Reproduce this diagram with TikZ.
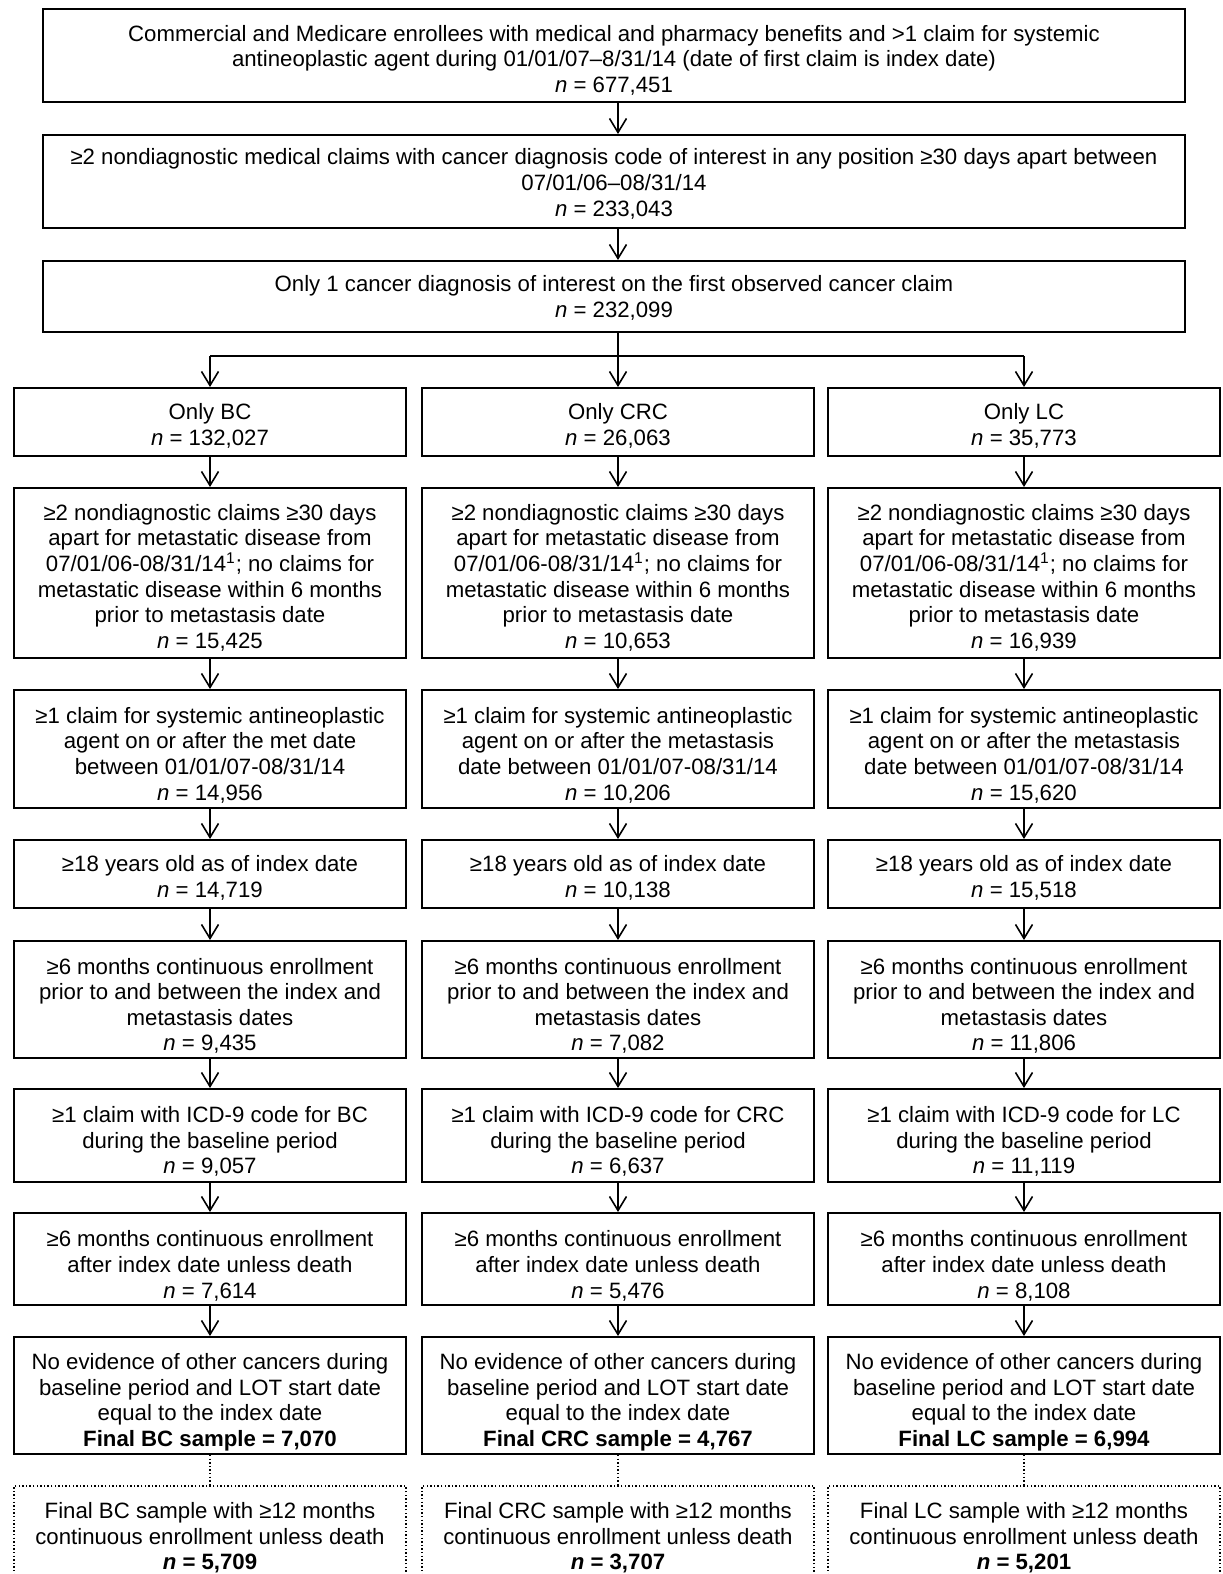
\documentclass[tikz,border=0pt]{standalone}
\usepackage{fontspec}
\setmainfont{Liberation Sans}
\usetikzlibrary{arrows.meta}
\newcommand\fsz{\fontsize{11.1pt}{12.8pt}\selectfont}
\newcommand\nI{\textit{n}}
% #1 style, #2 name, #3 x, #4 y, #5 height, #6 text shift, #7 text
\newcommand\mkbox[7]{%
  \node[#1, minimum height=#5] (#2) at (#3,#4) {};
  \node[txt, yshift=-#6] (#2t) at (#2.center) {#7};}
\begin{document}
\begin{tikzpicture}[x=0.5pt,y=-0.5pt,
  txt/.style={align=center, inner sep=0pt, font=\fsz, text=black},
  box/.style={draw, line width=1pt, inner sep=0pt},
  topbox/.style={box, minimum width=571pt},
  colbox/.style={box, minimum width=196pt},
  dotbox/.style={colbox, line width=0.7pt, dash pattern=on 0.7pt off 1.1pt},
  arr/.style={line width=0.8pt, -{Straight Barb[length=7pt,width=8.5pt,line width=0.8pt]}},
  plain/.style={line width=0.8pt},
  dotline/.style={line width=0.7pt, dash pattern=on 0.7pt off 1.1pt}]
\useasboundingbox (0,0) rectangle (1222,1574);

% top boxes
\mkbox{topbox}{b1}{614}{55.5}{46.5pt}{2.3pt}{Commercial and Medicare enrollees with medical and pharmacy benefits and >1 claim for systemic\\ antineoplastic agent during 01/01/07–8/31/14 (date of first claim is index date)\\ \nI{} = 677,451}
\mkbox{topbox}{b2}{614}{181.5}{46.5pt}{1.2pt}{≥2 nondiagnostic medical claims with cancer diagnosis code of interest in any position ≥30 days apart between\\ 07/01/06–08/31/14\\ \nI{} = 233,043}
\mkbox{topbox}{b3}{614}{296.5}{35.5pt}{0.8pt}{Only 1 cancer diagnosis of interest on the first observed cancer claim\\ \nI{} = 232,099}

% BC column
\mkbox{colbox}{a1}{210}{422}{34pt}{2pt}{Only BC\\ \nI{} = 132,027}
\mkbox{colbox}{a2}{210}{573}{85pt}{2.3pt}{≥2 nondiagnostic claims ≥30 days\\ apart for metastatic disease from\\ 07/01/06-08/31/14\textsuperscript{1}; no claims for\\ metastatic disease within 6 months\\ prior to metastasis date\\ \nI{} = 15,425}
\mkbox{colbox}{a3}{210}{749}{59pt}{3pt}{≥1 claim for systemic antineoplastic\\ agent on or after the met date\\ between 01/01/07-08/31/14\\ \nI{} = 14,956}
\mkbox{colbox}{a4}{210}{874}{34pt}{2pt}{≥18 years old as of index date\\ \nI{} = 14,719}
\mkbox{colbox}{a5}{210}{999.5}{58.5pt}{3.2pt}{≥6 months continuous enrollment\\ prior to and between the index and\\ metastasis dates\\ \nI{} = 9,435}
\mkbox{colbox}{a6}{210}{1135.5}{46.5pt}{3pt}{≥1 claim with ICD-9 code for BC\\ during the baseline period\\ \nI{} = 9,057}
\mkbox{colbox}{a7}{210}{1259}{46pt}{3.4pt}{≥6 months continuous enrollment\\ after index date unless death\\ \nI{} = 7,614}
\mkbox{colbox}{a8}{210}{1395.5}{58.5pt}{3.4pt}{No evidence of other cancers during\\ baseline period and LOT start date\\ equal to the index date\\ \textbf{Final BC sample = 7,070}}
\mkbox{dotbox}{a9}{210}{1538}{52pt}{0pt}{Final BC sample with ≥12 months\\ continuous enrollment unless death\\ \textbf{\textit{n} = 5,709}}

% CRC column
\mkbox{colbox}{c1}{618}{422}{34pt}{2pt}{Only CRC\\ \nI{} = 26,063}
\mkbox{colbox}{c2}{618}{573}{85pt}{2.3pt}{≥2 nondiagnostic claims ≥30 days\\ apart for metastatic disease from\\ 07/01/06-08/31/14\textsuperscript{1}; no claims for\\ metastatic disease within 6 months\\ prior to metastasis date\\ \nI{} = 10,653}
\mkbox{colbox}{c3}{618}{749}{59pt}{3pt}{≥1 claim for systemic antineoplastic\\ agent on or after the metastasis\\ date between 01/01/07-08/31/14\\ \nI{} = 10,206}
\mkbox{colbox}{c4}{618}{874}{34pt}{2pt}{≥18 years old as of index date\\ \nI{} = 10,138}
\mkbox{colbox}{c5}{618}{999.5}{58.5pt}{3.2pt}{≥6 months continuous enrollment\\ prior to and between the index and\\ metastasis dates\\ \nI{} = 7,082}
\mkbox{colbox}{c6}{618}{1135.5}{46.5pt}{3pt}{≥1 claim with ICD-9 code for CRC\\ during the baseline period\\ \nI{} = 6,637}
\mkbox{colbox}{c7}{618}{1259}{46pt}{3.4pt}{≥6 months continuous enrollment\\ after index date unless death\\ \nI{} = 5,476}
\mkbox{colbox}{c8}{618}{1395.5}{58.5pt}{3.4pt}{No evidence of other cancers during\\ baseline period and LOT start date\\ equal to the index date\\ \textbf{Final CRC sample = 4,767}}
\mkbox{dotbox}{c9}{618}{1538}{52pt}{0pt}{Final CRC sample with ≥12 months\\ continuous enrollment unless death\\ \textbf{\textit{n} = 3,707}}

% LC column
\mkbox{colbox}{e1}{1024}{422}{34pt}{2pt}{Only LC\\ \nI{} = 35,773}
\mkbox{colbox}{e2}{1024}{573}{85pt}{2.3pt}{≥2 nondiagnostic claims ≥30 days\\ apart for metastatic disease from\\ 07/01/06-08/31/14\textsuperscript{1}; no claims for\\ metastatic disease within 6 months\\ prior to metastasis date\\ \nI{} = 16,939}
\mkbox{colbox}{e3}{1024}{749}{59pt}{3pt}{≥1 claim for systemic antineoplastic\\ agent on or after the metastasis\\ date between 01/01/07-08/31/14\\ \nI{} = 15,620}
\mkbox{colbox}{e4}{1024}{874}{34pt}{2pt}{≥18 years old as of index date\\ \nI{} = 15,518}
\mkbox{colbox}{e5}{1024}{999.5}{58.5pt}{3.2pt}{≥6 months continuous enrollment\\ prior to and between the index and\\ metastasis dates\\ \nI{} = 11,806}
\mkbox{colbox}{e6}{1024}{1135.5}{46.5pt}{3pt}{≥1 claim with ICD-9 code for LC\\ during the baseline period\\ \nI{} = 11,119}
\mkbox{colbox}{e7}{1024}{1259}{46pt}{3.4pt}{≥6 months continuous enrollment\\ after index date unless death\\ \nI{} = 8,108}
\mkbox{colbox}{e8}{1024}{1395.5}{58.5pt}{3.4pt}{No evidence of other cancers during\\ baseline period and LOT start date\\ equal to the index date\\ \textbf{Final LC sample = 6,994}}
\mkbox{dotbox}{e9}{1024}{1538}{52pt}{0pt}{Final LC sample with ≥12 months\\ continuous enrollment unless death\\ \textbf{\textit{n} = 5,201}}

% connectors top
\draw[arr] (b1.south -| c1.north) -- (b2.north -| c1.north);
\draw[arr] (b2.south -| c1.north) -- (b3.north -| c1.north);
\coordinate (br) at (618,356);
\draw[plain] (br -| a1.north) -- (br -| e1.north);
\draw[arr] (b3.south -| c1.north) -- (c1.north);
\draw[arr] (br -| a1.north) -- (a1.north);
\draw[arr] (br -| e1.north) -- (e1.north);

% column connectors
\foreach \p in {a,c,e}{
  \foreach \i/\j in {1/2,2/3,3/4,4/5,5/6,6/7,7/8}{
    \draw[arr] (\p\i.south) -- (\p\j.north);
  }
  \draw[dotline] (\p8.south) -- (\p9.north);
}
\end{tikzpicture}
\end{document}
